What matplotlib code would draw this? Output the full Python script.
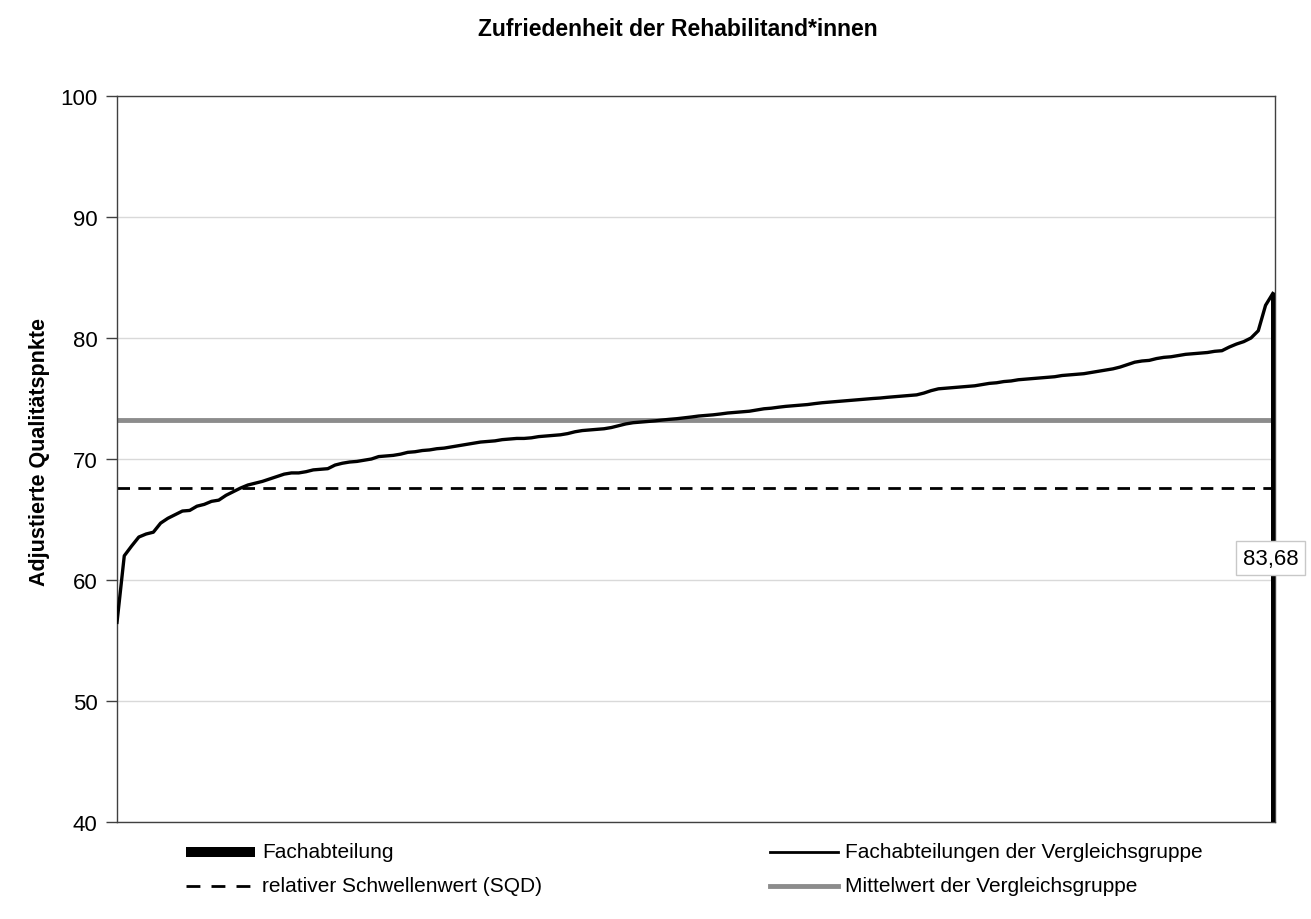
import matplotlib
matplotlib.use("Agg")
import matplotlib.pyplot as plt
from matplotlib.lines import Line2D
from matplotlib.patches import Rectangle

plt.rcParams['font.family'] = ['Liberation Sans', 'DejaVu Sans']

title = "Zufriedenheit der Rehabilitand*innen"
ylabel = "Adjustierte Qualitätspnkte"
yticks = [40, 50, 60, 70, 80, 90, 100]

# sorted quality points of the comparison group
group_values = [
    56.5, 62.0, 62.8, 63.55, 63.8, 63.95, 64.7, 65.1, 65.4, 65.7,
    65.75, 66.1, 66.25, 66.5, 66.6, 67.0, 67.3, 67.6, 67.85, 68.0,
    68.15, 68.35, 68.55, 68.75, 68.85, 68.85, 68.95, 69.1, 69.15, 69.2,
    69.5, 69.65, 69.75, 69.8, 69.9, 70.0, 70.2, 70.25, 70.3, 70.4,
    70.55, 70.6, 70.7, 70.75, 70.85, 70.9, 71.0, 71.1, 71.2, 71.3,
    71.4, 71.45, 71.5, 71.6, 71.65, 71.7, 71.7, 71.75, 71.85, 71.9,
    71.95, 72.0, 72.1, 72.25, 72.35, 72.4, 72.45, 72.5, 72.6, 72.75,
    72.9, 73.0, 73.05, 73.1, 73.15, 73.22, 73.28, 73.33, 73.4, 73.47,
    73.55, 73.6, 73.65, 73.72, 73.8, 73.85, 73.9, 73.95, 74.05, 74.15,
    74.2, 74.28, 74.35, 74.4, 74.45, 74.5, 74.58, 74.65, 74.7, 74.75,
    74.8, 74.85, 74.9, 74.95, 75.0, 75.04, 75.1, 75.15, 75.2, 75.25,
    75.3, 75.45, 75.65, 75.8, 75.85, 75.9, 75.95, 76.0, 76.05, 76.15,
    76.25, 76.3, 76.4, 76.45, 76.55, 76.6, 76.65, 76.7, 76.75, 76.8,
    76.9, 76.95, 77.0, 77.05, 77.15, 77.25, 77.35, 77.45, 77.6, 77.8,
    78.0, 78.1, 78.15, 78.3, 78.4, 78.45, 78.55, 78.65, 78.7, 78.75,
    78.8, 78.9, 78.95, 79.25, 79.5, 79.7, 80.0, 80.6, 82.7, 83.68,
]
own_value = 83.68
own_label = "83,68"
threshold = 67.6
group_mean = 73.2

legend_labels = ["Fachabteilung", "Fachabteilungen der Vergleichsgruppe",
                 "relativer Schwellenwert (SQD)", "Mittelwert der Vergleichsgruppe"]

W, H = 1311, 920
fig = plt.figure(figsize=(W / 100, H / 100), dpi=100)
ax = fig.add_axes([117 / W, (H - 823) / H, (1275 - 117) / W, (823 - 97) / H])

n = len(group_values)
xs = list(range(n))
own_idx = n - 1

ax.set_ylim(40, 100)
ax.set_xlim(0, own_idx + 0.3)
ax.set_yticks(yticks)
ax.yaxis.grid(True, color='#d9d9d9', linewidth=1.0)
ax.set_axisbelow(True)
ax.set_xticks([])
ax.tick_params(axis='y', direction='out', length=8, width=1, color='#404040',
               labelsize=16, pad=6)
for s in ax.spines.values():
    s.set_color('#404040')
    s.set_linewidth(1.0)

ax.axhline(threshold, color='black', linewidth=2.0, linestyle=(0, (4.5, 3)), zorder=2)
ax.axhline(group_mean, color='#8c8c8c', linewidth=3.5, zorder=2)
ax.plot(xs, group_values, color='black', linewidth=2.4, zorder=3,
        solid_joinstyle='round')
ax.bar([own_idx], [own_value - 40], bottom=40, width=0.55, color='black', zorder=4)

ax.text(own_idx - 0.3, 61.8, own_label, fontsize=16, ha='center', va='center',
        bbox=dict(boxstyle='square,pad=0.3', facecolor='white', edgecolor='#c8c8c8',
                  linewidth=1.0), zorder=5, clip_on=False)

fig.text(678 / W, 1 - 30 / H, title, fontsize=16.5, fontweight='bold',
         ha='center', va='center')
fig.text(40 / W, 1 - 452 / H, ylabel, fontsize=15.5, fontweight='bold',
         rotation=90, ha='center', va='center')

# legend (manual)
def fx(p):
    return p / W

def fy(p):
    return 1 - p / H

row1, row2 = 853, 887
fs_leg = 15
fig.add_artist(Rectangle((fx(186), fy(row1 + 5)), fx(255) - fx(186), 10 / H,
                         transform=fig.transFigure, facecolor='black', edgecolor='none'))
fig.text(fx(262), fy(row1), legend_labels[0], fontsize=fs_leg, va='center', ha='left')

fig.add_artist(Line2D([fx(770), fx(838)], [fy(row1), fy(row1)], transform=fig.transFigure,
                      color='black', linewidth=2.0))
fig.text(fx(845), fy(row1), legend_labels[1], fontsize=fs_leg, va='center', ha='left')

fig.add_artist(Line2D([fx(186), fx(255)], [fy(row2), fy(row2)], transform=fig.transFigure,
                      color='black', linewidth=2.0, linestyle=(0, (5, 4))))
fig.text(fx(262), fy(row2), legend_labels[2], fontsize=fs_leg, va='center', ha='left')

fig.add_artist(Line2D([fx(770), fx(838)], [fy(row2), fy(row2)], transform=fig.transFigure,
                      color='#8c8c8c', linewidth=3.5))
fig.text(fx(845), fy(row2), legend_labels[3], fontsize=fs_leg, va='center', ha='left')

fig.savefig("out.png", dpi=100)
